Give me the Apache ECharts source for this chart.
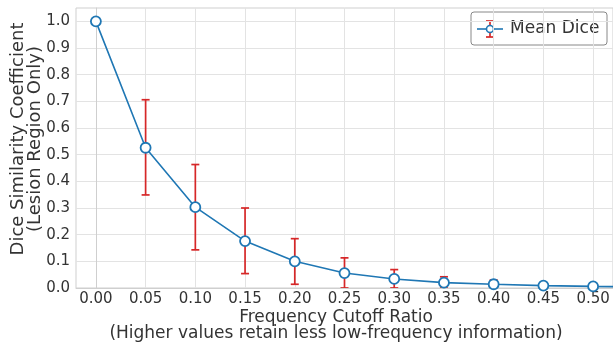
<!DOCTYPE html>
<html>
<head>
<meta charset="utf-8">
<script src="https://cdn.jsdelivr.net/npm/echarts@6/dist/echarts.min.js"></script>
<style>
  html, body { margin: 0; padding: 0; background: #fff; }
  #chart { width: 613px; height: 346px; }
</style>
</head>
<body>
<div id="chart"></div>
<script>
// frequency cutoff ratios and mean dice (last point runs past the visible edge)
const cutoffs = [0.00, 0.05, 0.10, 0.15, 0.20, 0.25, 0.30, 0.35, 0.40, 0.45, 0.50, 0.55];
const meanDice = [1.0, 0.526, 0.303, 0.176, 0.100, 0.056, 0.034, 0.020, 0.014, 0.009, 0.006, 0.004];
const lowerDice = [1.0, 0.349, 0.143, 0.054, 0.014, 0.0, 0.0, 0.0, 0.0, 0.002, 0.003, 0.002];
const upperDice = [1.0, 0.706, 0.463, 0.300, 0.185, 0.113, 0.069, 0.042, 0.030, 0.018, 0.009, 0.006];
const xTicks = [0, 0.05, 0.1, 0.15, 0.2, 0.25, 0.3, 0.35, 0.4, 0.45, 0.5];
const yTicks = [0, 0.1, 0.2, 0.3, 0.4, 0.5, 0.6, 0.7, 0.8, 0.9, 1.0];

const FONT = "DejaVu Sans";
const TXT = "#333";
const BLUE = "#1f77b4";
const RED = "#d62728";

const chart = echarts.init(document.getElementById("chart"));

const errData = cutoffs.map((c, i) => [c, lowerDice[i], upperDice[i]]);

chart.setOption({
  animation: false,
  grid: { left: 76, top: 8, right: 0, bottom: 58, show: true, borderColor: "#cfcfcf", borderWidth: 1 },
  xAxis: {
    type: "value",
    min: -0.02,
    max: 0.52,
    axisLine: { show: true, lineStyle: { color: "#cfcfcf" } },
    axisTick: { show: false, customValues: xTicks },
    axisLabel: {
      customValues: xTicks,
      color: TXT, fontFamily: FONT, fontSize: 15, margin: 4,
      formatter: v => v.toFixed(2)
    },
    splitLine: { show: true, lineStyle: { color: "#e3e3e3", width: 1 } }
  },
  yAxis: {
    type: "value",
    min: 0,
    max: 1.05,
    axisLine: { show: true, lineStyle: { color: "#cfcfcf" } },
    axisTick: { show: false, customValues: yTicks },
    axisLabel: {
      customValues: yTicks,
      color: TXT, fontFamily: FONT, fontSize: 15, margin: 6,
      formatter: v => v.toFixed(1)
    },
    splitLine: { show: true, lineStyle: { color: "#e3e3e3", width: 1 } }
  },
  series: [
    {
      type: "custom",
      name: "err",
      z: 2,
      clip: true,
      data: errData,
      renderItem(params, api) {
        const x = api.value(0);
        const lo = api.coord([x, api.value(1)]);
        const hi = api.coord([x, api.value(2)]);
        const hw = 4;
        const style = { stroke: RED, lineWidth: 1.7 };
        return {
          type: "group",
          children: [
            { type: "line", shape: { x1: lo[0], y1: lo[1], x2: hi[0], y2: hi[1] }, style },
            { type: "line", shape: { x1: lo[0] - hw, y1: lo[1], x2: lo[0] + hw, y2: lo[1] }, style },
            { type: "line", shape: { x1: hi[0] - hw, y1: hi[1], x2: hi[0] + hw, y2: hi[1] }, style }
          ]
        };
      }
    },
    {
      type: "line",
      name: "Mean Dice",
      z: 3,
      data: cutoffs.map((c, i) => [c, meanDice[i]]),
      symbol: "circle",
      symbolSize: 10,
      showAllSymbol: true,
      lineStyle: { color: BLUE, width: 1.6 },
      itemStyle: { color: "#fff", borderColor: BLUE, borderWidth: 1.8 }
    }
  ],
  graphic: [
    {
      type: "text",
      x: 18, y: 139, rotation: Math.PI / 2,
      style: {
        text: "Dice Similarity Coefficient", fill: TXT, font: "18px " + FONT,
        align: "center", verticalAlign: "middle"
      }
    },
    {
      type: "text",
      x: 35, y: 139, rotation: Math.PI / 2,
      style: {
        text: "(Lesion Region Only)", fill: TXT, font: "18px " + FONT,
        align: "center", verticalAlign: "middle"
      }
    },
    {
      type: "text",
      x: 336, y: 318,
      style: {
        text: "Frequency Cutoff Ratio", fill: TXT, font: "17px " + FONT,
        align: "center", verticalAlign: "middle"
      }
    },
    {
      type: "text",
      x: 336, y: 334,
      style: {
        text: "(Higher values retain less low-frequency information)", fill: TXT, font: "17px " + FONT,
        align: "center", verticalAlign: "middle"
      }
    },
    // legend box
    {
      type: "group",
      x: 471, y: 12, z: 10,
      children: [
        { type: "rect", shape: { x: 0, y: 0, width: 136, height: 33, r: 3 }, style: { fill: "#fff", stroke: "#888", lineWidth: 1 } },
        { type: "line", shape: { x1: 6, y1: 17, x2: 32, y2: 17 }, style: { stroke: BLUE, lineWidth: 1.6 } },
        { type: "line", shape: { x1: 19, y1: 9, x2: 19, y2: 25 }, style: { stroke: RED, lineWidth: 1.7 } },
        { type: "line", shape: { x1: 15, y1: 9, x2: 23, y2: 9 }, style: { stroke: RED, lineWidth: 1.7 } },
        { type: "line", shape: { x1: 15, y1: 25, x2: 23, y2: 25 }, style: { stroke: RED, lineWidth: 1.7 } },
        { type: "circle", shape: { cx: 19, cy: 17, r: 3.5 }, style: { fill: "#fff", stroke: BLUE, lineWidth: 1.6 } },
        { type: "text", x: 39, y: 17, style: { text: "Mean Dice", fill: TXT, font: "17px " + FONT, verticalAlign: "middle" } }
      ]
    }
  ]
});
</script>
</body>
</html>
